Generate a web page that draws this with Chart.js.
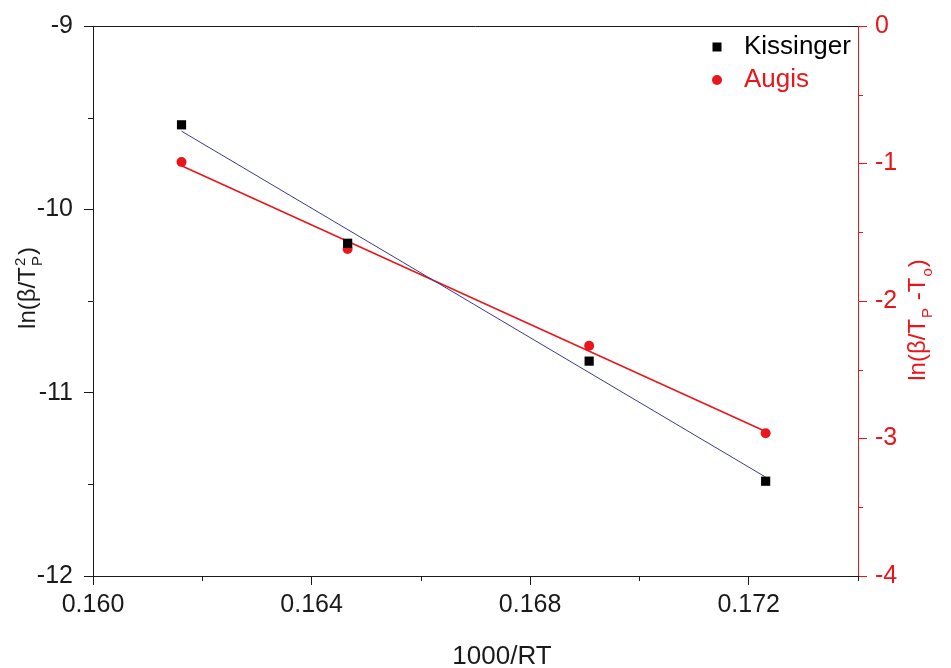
<!DOCTYPE html>
<html>
<head>
<meta charset="utf-8">
<script src="https://cdn.jsdelivr.net/npm/chart.js@4.4.1/dist/chart.umd.min.js"></script>
<style>
  html, body { margin: 0; padding: 0; background: #fff; }
  canvas { display: block; }
</style>
</head>
<body>
<canvas id="kineticsChart" width="951" height="668"></canvas>
<script>
// 1000/RT values shared by both methods
const invRT = [0.16162, 0.16466, 0.16908, 0.17231];
// ln(beta/Tp^2), left axis
const kissinger = [-9.539, -10.185, -10.828, -11.483];
// ln(beta/(Tp-To)), right axis
const augis = [-0.989, -1.621, -2.325, -2.962];

const xTicks = [0.160, 0.164, 0.168, 0.172];
const xMinor = [0.162, 0.166, 0.170, 0.174];
const yLeftTicks = [-9, -10, -11, -12];
const yLeftMinor = [-9.5, -10.5, -11.5];
const yRightTicks = [0, -1, -2, -3, -4];
const yRightMinor = [-0.5, -1.5, -2.5, -3.5];

const FONT = '"Liberation Sans", Arial, Helvetica, sans-serif';
const RED = '#e8161b';
const INK = '#1a1a1a';

// least squares line through the points, returned as its two end points
const linFit = (xs, ys) => {
    const n = xs.length;
    const mx = xs.reduce((a, b) => a + b, 0) / n;
    const my = ys.reduce((a, b) => a + b, 0) / n;
    let sxy = 0, sxx = 0;
    xs.forEach((x, i) => {
        sxy += (x - mx) * (ys[i] - my);
        sxx += (x - mx) * (x - mx);
    });
    const k = sxy / sxx;
    const x0 = xs[0], x1 = xs[n - 1];
    return [{ x: x0, y: my + k * (x0 - mx) }, { x: x1, y: my + k * (x1 - mx) }];
};

const toPoints = (xs, ys) => xs.map((x, i) => ({ x, y: ys[i] }));

// text with sub/superscripts, centred on (cx, cy)
const drawRich = (ctx, parts, cx, cy, angle, size, color) => {
    const big = size + 'px ' + FONT;
    const small = Math.round(size * 0.62) + 'px ' + FONT;
    const widthOf = p => {
        if (p.t !== undefined) { ctx.font = big; return ctx.measureText(p.t).width; }
        ctx.font = small;
        return Math.max(p.sup ? ctx.measureText(p.sup).width : 0, p.sub ? ctx.measureText(p.sub).width : 0) + 2;
    };
    ctx.save();
    ctx.translate(cx, cy);
    ctx.rotate(angle);
    ctx.fillStyle = color;
    ctx.textAlign = 'left';
    ctx.textBaseline = 'alphabetic';
    const total = parts.reduce((s, p) => s + widthOf(p), 0);
    let x = -total / 2;
    const base = size * 0.36;
    parts.forEach(p => {
        const w = widthOf(p);
        if (p.t !== undefined) {
            ctx.font = big;
            ctx.fillText(p.t, x, base);
        } else {
            ctx.font = small;
            if (p.sup) ctx.fillText(p.sup, x + 1, base - size * 0.42);
            if (p.sub) ctx.fillText(p.sub, x + 1, base + size * 0.32);
        }
        x += w;
    });
    ctx.restore();
};

// frame line, minor ticks, axis titles and legend
const decorations = {
    id: 'decorations',
    afterDraw(chart) {
        const { ctx, chartArea: area, scales } = chart;
        ctx.save();
        ctx.lineWidth = 1;

        ctx.strokeStyle = INK;
        ctx.beginPath();
        ctx.moveTo(area.left, area.top + 0.5);
        ctx.lineTo(area.right, area.top + 0.5);
        ctx.stroke();

        ctx.beginPath();
        xMinor.forEach(v => {
            const px = Math.round(scales.x.getPixelForValue(v)) + 0.5;
            ctx.moveTo(px, area.bottom);
            ctx.lineTo(px, area.bottom + 5);
        });
        yLeftMinor.forEach(v => {
            const py = Math.round(scales.y.getPixelForValue(v)) + 0.5;
            ctx.moveTo(area.left - 5, py);
            ctx.lineTo(area.left, py);
        });
        ctx.stroke();

        ctx.strokeStyle = RED;
        ctx.beginPath();
        yRightMinor.forEach(v => {
            const py = Math.round(scales.y2.getPixelForValue(v)) + 0.5;
            ctx.moveTo(area.right, py);
            ctx.lineTo(area.right + 5, py);
        });
        ctx.stroke();

        drawRich(ctx, [{ t: '1000/RT' }], 502, 655, 0, 26, INK);
        drawRich(ctx, [{ t: 'ln(β/T' }, { sup: '2', sub: 'P' }, { t: ')' }], 26, 288, -Math.PI / 2, 24, INK);
        drawRich(ctx, [{ t: 'ln(β/T' }, { sub: 'P' }, { t: ' -T' }, { sub: 'o' }, { t: ')' }], 916, 320, -Math.PI / 2, 24, RED);

        // legend
        ctx.font = '26px ' + FONT;
        ctx.textBaseline = 'middle';
        ctx.textAlign = 'left';
        ctx.fillStyle = '#000';
        ctx.fillRect(712.5, 42.5, 9, 9);
        ctx.fillText(chart.data.datasets[0].label, 744, 47);
        ctx.fillStyle = RED;
        ctx.beginPath();
        ctx.arc(717, 80, 5, 0, Math.PI * 2);
        ctx.fill();
        ctx.fillText(chart.data.datasets[1].label, 744, 80);
        ctx.restore();
    }
};

const setTicks = values => scale => { scale.ticks = values.map(value => ({ value })); };

new Chart(document.getElementById('kineticsChart'), {
    type: 'scatter',
    data: {
        datasets: [
            {
                label: 'Kissinger',
                data: toPoints(invRT, kissinger),
                yAxisID: 'y',
                pointStyle: 'rect',
                pointRadius: 6.5,
                backgroundColor: '#000',
                borderColor: '#000',
                borderWidth: 0,
                order: 0
            },
            {
                label: 'Augis',
                data: toPoints(invRT, augis),
                yAxisID: 'y2',
                pointStyle: 'circle',
                pointRadius: 5,
                backgroundColor: RED,
                borderColor: RED,
                borderWidth: 0,
                order: 0
            },
            {
                label: 'Kissinger fit',
                data: linFit(invRT, kissinger),
                yAxisID: 'y',
                showLine: true,
                pointRadius: 0,
                borderColor: '#3a3a86',
                borderWidth: 1,
                order: 1
            },
            {
                label: 'Augis fit',
                data: linFit(invRT, augis),
                yAxisID: 'y2',
                showLine: true,
                pointRadius: 0,
                borderColor: RED,
                borderWidth: 1.5,
                order: 1
            }
        ]
    },
    options: {
        responsive: false,
        animation: false,
        layout: { padding: { top: 25, left: 0, right: 0, bottom: 0 } },
        plugins: {
            legend: { display: false },
            tooltip: { enabled: false }
        },
        scales: {
            x: {
                type: 'linear',
                position: 'bottom',
                min: 0.160,
                max: 0.174,
                afterFit: s => { s.height = 92; },
                afterBuildTicks: setTicks(xTicks),
                grid: { drawOnChartArea: false, tickLength: 9, color: INK },
                border: { color: INK, width: 1 },
                ticks: {
                    font: { size: 25, family: FONT },
                    color: INK,
                    padding: 5,
                    maxRotation: 0,
                    callback: v => v.toFixed(3)
                }
            },
            y: {
                type: 'linear',
                position: 'left',
                min: -12,
                max: -9,
                afterFit: s => { s.width = 93; },
                afterBuildTicks: setTicks(yLeftTicks),
                grid: { drawOnChartArea: false, tickLength: 9, color: INK },
                border: { color: INK, width: 1 },
                ticks: {
                    font: { size: 25, family: FONT },
                    color: INK,
                    padding: 11,
                    callback: v => String(v)
                }
            },
            y2: {
                type: 'linear',
                position: 'right',
                min: -4,
                max: 0,
                afterFit: s => { s.width = 93; },
                afterBuildTicks: setTicks(yRightTicks),
                grid: { drawOnChartArea: false, tickLength: 9, color: RED },
                border: { color: RED, width: 1 },
                ticks: {
                    font: { size: 25, family: FONT },
                    color: RED,
                    padding: 8,
                    callback: v => String(v)
                }
            }
        }
    },
    plugins: [decorations]
});
</script>
</body>
</html>
